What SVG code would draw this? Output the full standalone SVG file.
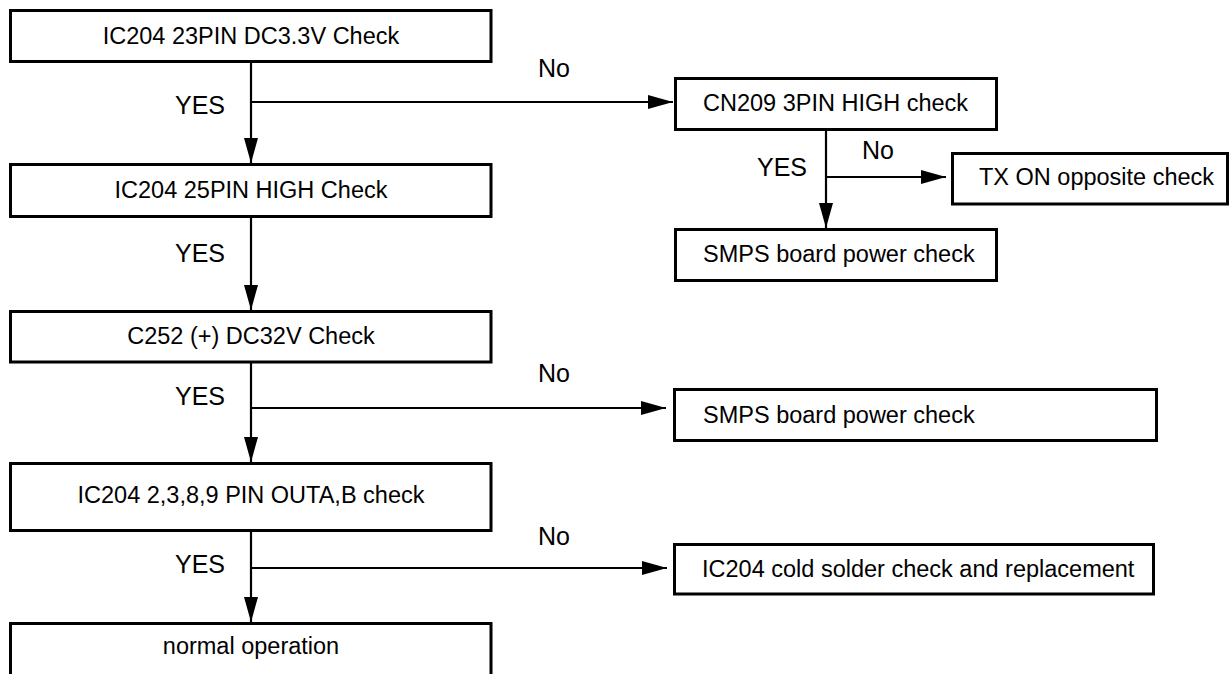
<svg xmlns="http://www.w3.org/2000/svg" width="1230" height="674" viewBox="0 0 1230 674">
  <style>
    .box { fill: #ffffff; stroke: #000000; stroke-width: 3; }
    .t { font-family: "Liberation Sans", Arial, sans-serif; font-size: 23.5px; fill: #000000; }
    .c { text-anchor: middle; }
    .lbl { font-family: "Liberation Sans", Arial, sans-serif; font-size: 25px; fill: #000000; }
    .ln { stroke: #000000; stroke-width: 2.2; fill: none; }
  </style>
  <defs>
    <marker id="ah" markerUnits="userSpaceOnUse" markerWidth="26" markerHeight="16" refX="25" refY="7" orient="auto">
      <polygon points="0,0 25,7 0,14" fill="#000000"/>
    </marker>
  </defs>
  <rect width="1230" height="674" fill="#ffffff"/>

  <g id="connectors">
    <line class="ln" x1="251" y1="62" x2="251" y2="163" marker-end="url(#ah)"/>
    <line class="ln" x1="251" y1="102" x2="673" y2="102" marker-end="url(#ah)"/>
    <line class="ln" x1="251" y1="218" x2="251" y2="310" marker-end="url(#ah)"/>
    <line class="ln" x1="251" y1="363" x2="251" y2="462" marker-end="url(#ah)"/>
    <line class="ln" x1="251" y1="408" x2="666" y2="408" marker-end="url(#ah)"/>
    <line class="ln" x1="251" y1="532" x2="251" y2="622" marker-end="url(#ah)"/>
    <line class="ln" x1="251" y1="568" x2="667" y2="568" marker-end="url(#ah)"/>
    <line class="ln" x1="826" y1="131" x2="826" y2="228" marker-end="url(#ah)"/>
    <line class="ln" x1="826" y1="177" x2="946" y2="177" marker-end="url(#ah)"/>
    <text class="lbl" x="225" y="114" text-anchor="end">YES</text>
    <text class="lbl" x="538" y="77">No</text>
    <text class="lbl" x="225" y="262" text-anchor="end">YES</text>
    <text class="lbl" x="225" y="405" text-anchor="end">YES</text>
    <text class="lbl" x="538" y="382">No</text>
    <text class="lbl" x="225" y="573" text-anchor="end">YES</text>
    <text class="lbl" x="538" y="545">No</text>
    <text class="lbl" x="807" y="176" text-anchor="end">YES</text>
    <text class="lbl" x="862" y="159">No</text>
  </g>

  <g id="n1">
    <rect class="box" x="10.5" y="10.5" width="480.5" height="51"/>
    <text class="t c" x="251" y="44">IC204 23PIN DC3.3V Check</text>
  </g>
  <g id="n2">
    <rect class="box" x="10.5" y="164.5" width="480.5" height="52"/>
    <text class="t c" x="251" y="198">IC204 25PIN HIGH Check</text>
  </g>
  <g id="n3">
    <rect class="box" x="10.5" y="311.5" width="480.5" height="50.5"/>
    <text class="t c" x="251" y="344">C252 (+) DC32V Check</text>
  </g>
  <g id="n4">
    <rect class="box" x="10.5" y="463.5" width="480.5" height="67"/>
    <text class="t c" x="251" y="503">IC204 2,3,8,9 PIN OUTA,B check</text>
  </g>
  <g id="n5">
    <rect class="box" x="10.5" y="623.5" width="480.5" height="60"/>
    <text class="t c" x="251" y="654">normal operation</text>
  </g>
  <g id="n6">
    <rect class="box" x="675.5" y="78.5" width="321" height="51"/>
    <text class="t" x="703" y="111">CN209 3PIN HIGH check</text>
  </g>
  <g id="n7">
    <rect class="box" x="952.5" y="153.5" width="275" height="50.5"/>
    <text class="t" x="979" y="185">TX ON opposite check</text>
  </g>
  <g id="n8">
    <rect class="box" x="675.5" y="229.5" width="321" height="51"/>
    <text class="t" x="703" y="262">SMPS board power check</text>
  </g>
  <g id="n9">
    <rect class="box" x="674.5" y="389.5" width="482" height="51"/>
    <text class="t" x="703" y="423">SMPS board power check</text>
  </g>
  <g id="n10">
    <rect class="box" x="674.5" y="544.5" width="479" height="49.5"/>
    <text class="t" x="702" y="577">IC204 cold solder check and replacement</text>
  </g>
</svg>
